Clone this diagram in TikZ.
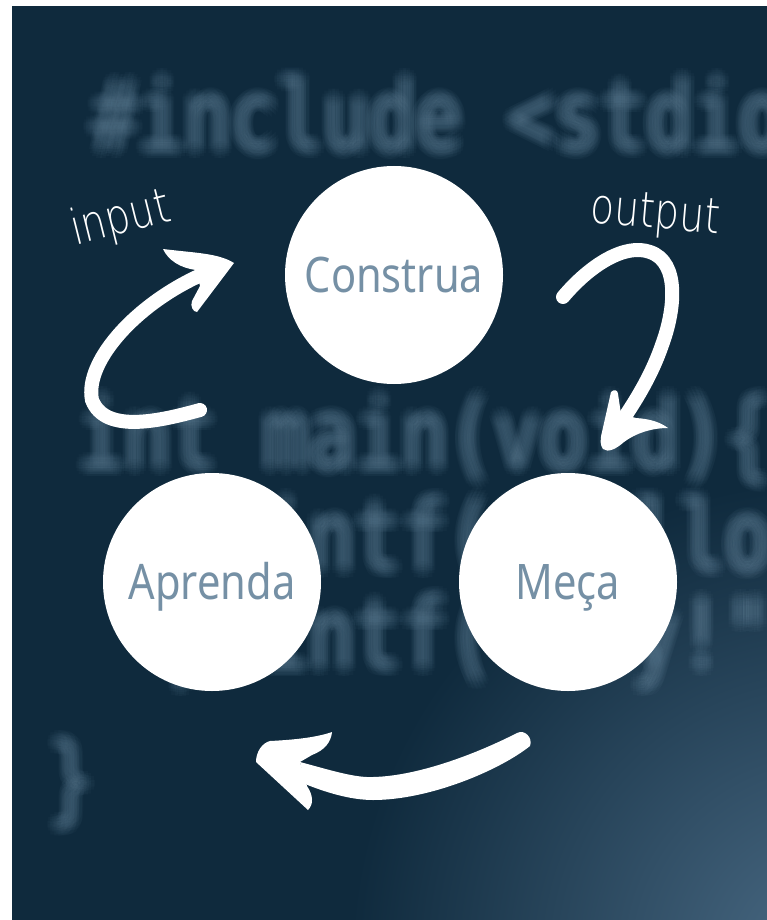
\documentclass[tikz,border=0pt]{standalone}
\usepackage{fontspec}
\newfontfamily\labelfont[FakeStretch=0.85]{Noto Sans}
\newfontfamily\codefont[FakeStretch=0.8]{DejaVu Sans Mono}
\newfontfamily\handfont[FakeStretch=0.8]{DejaVu Sans ExtraLight}
\definecolor{bgc}{HTML}{0F2A3D}
\definecolor{labelc}{HTML}{7590A5}
\definecolor{codec}{HTML}{6F8FA6}
\definecolor{cornerc}{HTML}{4A6A84}
\tikzset{
  stage/.style={circle, fill=white, minimum size=218pt, inner sep=0pt,
    font=\labelfont\fontsize{49}{55}\selectfont, text=labelc,
    text height=35pt, text depth=0pt},
  codetext/.style={anchor=base west, inner sep=0pt, text=codec, text opacity=0.042,
    font=\codefont\fontsize{96}{100}\selectfont},
  hand/.style={inner sep=0pt, text=white, anchor=base,
    font=\handfont\fontsize{49}{55}\selectfont},
  brush/.style={draw=white, line width=14pt, line cap=round},
  brushhead/.style={fill=white}
}
\begin{document}
\begin{tikzpicture}[x=1pt,y=-1pt]
\useasboundingbox (0,0) rectangle (767,920);
\fill[white] (0,0) rectangle (767,920);
\fill[bgc] (12,6) rectangle (767,920);
\begin{scope}
  \clip (12,6) rectangle (767,920);
  \shade[inner color=cornerc, outer color=bgc] (830,960) circle (480pt);
  \foreach \ang/\rad in {0/0,
      0/3, 60/3, 120/3, 180/3, 240/3, 300/3,
      18/6, 54/6, 90/6, 126/6, 162/6, 198/6, 234/6, 270/6, 306/6, 342/6,
      0/9, 26/9, 51/9, 77/9, 103/9, 129/9, 154/9, 180/9, 206/9, 231/9, 257/9, 283/9, 309/9, 334/9}{
      \begin{scope}[shift={(\ang:\rad)}]
        \node[codetext] (code1) at (92,150) {\#include <stdio.h>};
        \node[codetext] (code2) at (78,468) {int main(void)\{};
        \node[codetext] (code3) at (170,570) {printf("Hello};
        \node[codetext] (code4) at (170,668) {printf("Hey!");};
        \node[codetext] (code5) at (48,812) {\}};
      \end{scope}
  }
\end{scope}

% stages
\node[stage] (construa) at (394,275) {Construa};
\node[stage] (aprenda) at (212,582) {Aprenda};
\node[stage] (meca) at (568,582) {Meça};

% labels
\node[hand, rotate=14] (inputlbl) at (124,233) {input};
\node[hand, rotate=-5] (outputlbl) at (654,228) {output};

% input arrow (Aprenda -> Construa)
\coordinate (inTail) at (200,410);
\coordinate (inLeft) at (92,400);
\coordinate (inEnd) at (208,272);
\draw[brush] (inTail) .. controls (160,421) and (105,434) .. (inLeft)
  .. controls (84,360) and (140,300) .. (inEnd);
\fill[brushhead] (234,263) .. controls (218,253) and (195,253) .. (163,249)
  .. controls (168,260) and (180,268) .. (196,270) -- (200,286) -- (192,301)
  .. controls (190,306) and (193,312) .. (197,312) -- cycle;

% output arrow (Construa -> Meca)
\coordinate (outTail) at (563,297);
\coordinate (outTop) at (650,252);
\coordinate (outRight) at (662,345);
\coordinate (outEnd) at (612,435);
\draw[brush] (outTail) .. controls (590,265) and (625,243) .. (outTop)
  .. controls (680,262) and (675,310) .. (outRight)
  .. controls (650,380) and (630,410) .. (outEnd);
\fill[brushhead] (603,449) .. controls (600,445) and (600,440) .. (602,432)
  -- (611,392) .. controls (614,389) and (618,390) .. (618,394) -- (621,414)
  -- (636,418) .. controls (650,419) and (660,422) .. (668,428)
  .. controls (652,428) and (636,433) .. (624,442)
  .. controls (616,449) and (608,453) .. (603,449) -- cycle;

% bottom arrow (Meca -> Aprenda)
\coordinate (botHead) at (300,762);
\coordinate (botTail) at (530,746);
\fill[brushhead] (botHead) .. controls (330,770) and (355,778) .. (373,777)
  .. controls (420,776) and (480,752) .. (517,733)
  .. controls (525,729) and (533,738) .. (botTail)
  .. controls (500,770) and (430,800) .. (373,800)
  .. controls (350,800) and (325,792) .. (305,784) -- cycle;
\fill[brushhead] (256,762) .. controls (256,752) and (262,743) .. (270,741)
  .. controls (290,740) and (315,738) .. (332,732)
  .. controls (331,742) and (325,750) .. (312,755) -- (botHead) -- (307,786)
  .. controls (313,795) and (314,804) .. (308,810) -- cycle;
\end{tikzpicture}
\end{document}
